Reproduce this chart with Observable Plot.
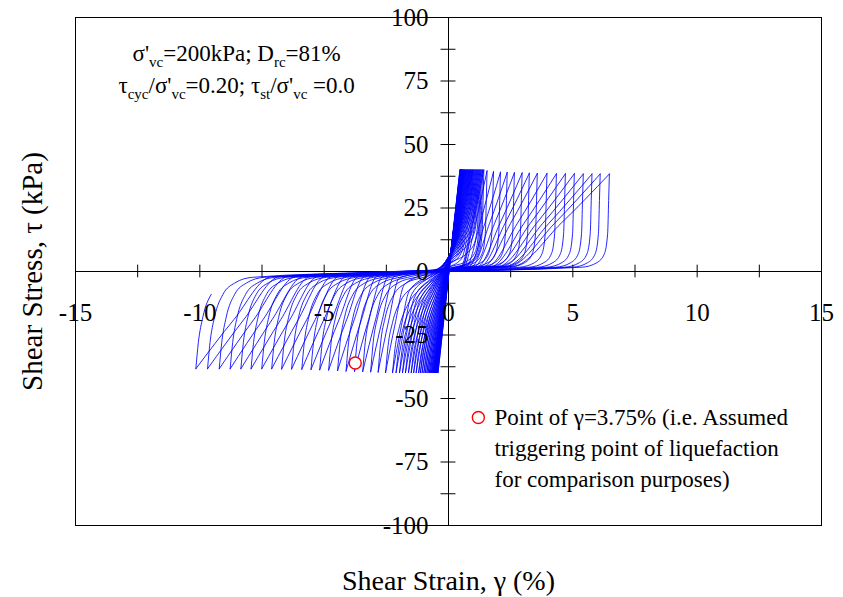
<!DOCTYPE html>
<html><head><meta charset="utf-8">
<script src="https://cdn.jsdelivr.net/npm/d3@7"></script>
<script src="https://cdn.jsdelivr.net/npm/@observablehq/plot@0.6"></script>
<style>
body{margin:0;background:#fff;}
</style></head><body><div id="chart"></div>
<script>
// ---- peak points of each cycle (time order) ----
const posStrain = [0.46,0.47,0.48,0.49,0.50,0.51,0.52,0.53,0.55,0.57,0.59,0.61,0.63,0.65,0.67,0.70,0.73,0.76,0.79,0.82,
  0.85,0.88,0.91,0.94,0.97,1.00,1.04,1.08,1.12,1.16,1.20,1.24,1.28,1.32,1.37,1.42,
  1.55,1.81,2.09,2.36,2.65,2.96,3.25,3.57,3.96,4.34,4.70,5.06,5.42,5.77,6.10,6.47];
const posStress = [40,40,40,40,40,40,40,40,40,40,40,40,40,40,40,40,40,40,40,40,
  40,40,40,40,40,40,40,40,40,40,40,40,40,40,40,40,
  39.6,39.3,39.1,39.0,38.9,38.8,38.7,38.6,38.6,38.5,38.5,38.5,38.4,38.4,38.4,38.4];
const negStrain = [-0.42,-0.44,-0.46,-0.48,-0.50,-0.52,-0.54,-0.56,-0.58,-0.60,-0.63,-0.66,-0.69,-0.73,-0.77,-0.82,-0.87,-0.93,-0.99,-1.06,
  -1.13,-1.20,-1.30,-1.40,-1.50,-1.61,-1.73,-1.85,-1.97,-2.11,-2.25,-2.53,-2.83,-3.13,-3.45,-3.78,
  -4.12,-4.46,-4.82,-5.18,-5.53,-5.90,-6.31,-6.71,-7.11,-7.51,-7.94,-8.35,-8.78,-9.22,-9.69,-10.16];
const negStress = [-39.8,-39.8,-39.8,-39.8,-39.8,-39.8,-39.8,-39.8,-39.8,-39.8,-39.8,-39.8,-39.8,-39.8,-39.8,-39.8,-39.8,-39.8,-39.8,-39.8,
  -39.8,-39.8,-39.8,-39.8,-39.8,-39.8,-39.8,-39.8,-39.8,-39.8,-39.8,-39.8,-39.6,-39.5,-39.4,-39.3,
  -39.2,-39.0,-38.8,-38.7,-38.6,-38.5,-38.4,-38.4,-38.3,-38.3,-38.3,-38.3,-38.3,-38.3,-38.3,-38.3];

// ---- branch shape read off the largest loops ----
// stiff unloading after a negative peak (strain offset %, stress kPa)
const upEdgeOffset = [0, 0.10, 0.28, 0.62, 1.1, 1.8];
const upEdgeStress = [null, -28, -18, -9, -4.5, -2.3];
// stiff unloading after a positive peak
const downEdgeOffset = [0, 0.03, 0.07, 0.2, 0.5, 1.1];
const downEdgeStress = [null, 28, 15, 7, 3.5, 1.7];
// stiffening run into the next peak: width as share of peak strain, stresses at its start and middle
const upFanShare = 0.6, downFanShare = 0.3;
const fanStartStress = 2, fanMidStress = 19;
const lastRecordedStress = -9; // record ends on the final unloading

const triggerPoint = [{strain: -3.75, stress: -36}];

// ---- axes ----
const xTicks = [-15,-12.5,-10,-7.5,-5,-2.5,0,2.5,5,7.5,10,12.5,15];
const xTickLabels = [-15,-10,-5,0,5,10,15];
const yTicks = [-100,-87.5,-75,-62.5,-50,-37.5,-25,-12.5,0,12.5,25,37.5,50,62.5,75,87.5,100];
const yTickLabels = [-100,-75,-50,-25,0,25,50,75,100];
const legendLines = ["Point of \u03b3=3.75% (i.e. Assumed", "triggering point of liquefaction", "for comparison purposes)"];

// ---- build the loops ----
function branch(g1, t1, g2, t2, dir) {
  const fw = (dir > 0 ? upFanShare : downFanShare) * Math.abs(g2);
  const F = g2 - dir * fw;
  const off = dir > 0 ? upEdgeOffset : downEdgeOffset;
  const st = dir > 0 ? upEdgeStress : downEdgeStress;
  const last = off[off.length - 1];
  const avail = Math.abs(F - g1);
  const c = Math.min(1, avail / (last * 1.4));
  const pts = [];
  off.forEach((o, i) => pts.push([g1 + dir * o * c, i === 0 ? t1 : st[i]]));
  const lastEdge = g1 + dir * last * c;
  pts.push([(lastEdge + F) / 2, (st[st.length - 1] + dir * fanStartStress) / 2]);
  pts.push([F, dir * fanStartStress]);
  pts.push([F + dir * fw / 2, dir * fanMidStress]);
  pts.push([g2, t2]);
  const R = Math.abs(g2 - g1);
  const s = Math.max(0, Math.min(1, (R - 1.2) / 3));
  return pts.map(([g, t]) => [g, s * t + (1 - s) * (t1 + (g - g1) / (g2 - g1) * (t2 - t1))]);
}

const rows = [];
let id = 0;
function push(pts) { pts.forEach(([g, t]) => rows.push({branch: id, strain: g, stress: t})); id++; }
push([[0, 0], [posStrain[0], posStress[0]]]);
const M = posStrain.length;
for (let i = 0; i < M; i++) {
  push(branch(posStrain[i], posStress[i], negStrain[i], negStress[i], -1));
  if (i + 1 < M) push(branch(negStrain[i], negStress[i], posStrain[i + 1], posStress[i + 1], 1));
}
// final partial unloading
{
  const g1 = negStrain[M - 1], t1 = negStress[M - 1];
  const pts = [];
  upEdgeOffset.forEach((o, i) => {
    const t = i === 0 ? t1 : upEdgeStress[i];
    if (t <= lastRecordedStress) pts.push([g1 + o, t]);
  });
  push(pts);
}

const serif = "Liberation Serif";
const txt = {fill: "black", fontFamily: serif};
const plot = Plot.plot({
  width: 843, height: 597,
  marginLeft: 75, marginRight: 22, marginTop: 17, marginBottom: 72,
  x: {domain: [-15, 15], axis: null},
  y: {domain: [-100, 100], axis: null},
  style: {background: "white", color: "black", fontFamily: serif},
  marks: [
    Plot.frame({stroke: "black", strokeWidth: 1}),
    Plot.ruleY([0], {stroke: "black"}),
    Plot.ruleX([0], {stroke: "black"}),
    Plot.ruleX(xTicks, {x: d => d, y1: -2.5, y2: 2.5, stroke: "black"}),
    Plot.ruleY(yTicks, {y: d => d, x1: -0.3, x2: 0.3, stroke: "black"}),
    Plot.line(rows, {x: "strain", y: "stress", z: "branch", stroke: "#0000ff", strokeWidth: 0.85, curve: "monotone-x"}),
    Plot.dot(triggerPoint, {x: "strain", y: "stress", r: 6, stroke: "red", fill: "white", strokeWidth: 1.4}),
    Plot.text(xTickLabels, {...txt, x: d => d, y: 0, dy: 41, text: d => String(d), fontSize: 25}),
    Plot.text(yTickLabels, {...txt, x: 0, y: d => d, dx: -20, textAnchor: "end", text: d => String(d), fontSize: 25}),
    Plot.text(["Shear Strain, \u03b3 (%)"], {...txt, frameAnchor: "bottom", lineAnchor: "middle", dy: 56, fontSize: 28}),
    Plot.text(["Shear Stress, \u03c4 (kPa)"], {...txt, frameAnchor: "left", textAnchor: "middle", lineAnchor: "middle", dx: -43, rotate: -90, fontSize: 29}),
    Plot.dot([legendLines[0]], {x: 1.2, y: -57.5, r: 6, stroke: "red", fill: "white", strokeWidth: 1.4}),
    Plot.text(legendLines, {...txt, x: 1.85, y: (d, i) => -57.5 - i * 12.2, text: d => d, textAnchor: "start", fontSize: 23})
  ]
});
plot.setAttribute("font-family", serif);
document.getElementById("chart").appendChild(plot);

// annotation with subscripts
const sx = plot.scale("x"), sy = plot.scale("y");
const svg = d3.select(plot);
function richText(parts, gx, ty) {
  const t = svg.append("text").attr("x", sx.apply(gx)).attr("y", sy.apply(ty))
    .attr("text-anchor", "middle").attr("font-family", serif).attr("font-size", 23).attr("fill", "black");
  let sub = false;
  for (const [str, isSub] of parts) {
    const ts = t.append("tspan").text(str);
    if (isSub) ts.attr("font-size", 15);
    if (isSub && !sub) ts.attr("dy", 6);
    if (!isSub && sub) ts.attr("dy", -6);
    sub = isSub;
  }
}
richText([["\u03c3'", 0], ["vc", 1], ["=200kPa; D", 0], ["rc", 1], ["=81%", 0]], -8.5, 82.5);
richText([["\u03c4", 0], ["cyc", 1], ["/\u03c3'", 0], ["vc", 1], ["=0.20; \u03c4", 0], ["st", 1], ["/\u03c3'", 0], ["vc", 1], ["\u00a0=0.0", 0]], -8.5, 70);
</script></body></html>
